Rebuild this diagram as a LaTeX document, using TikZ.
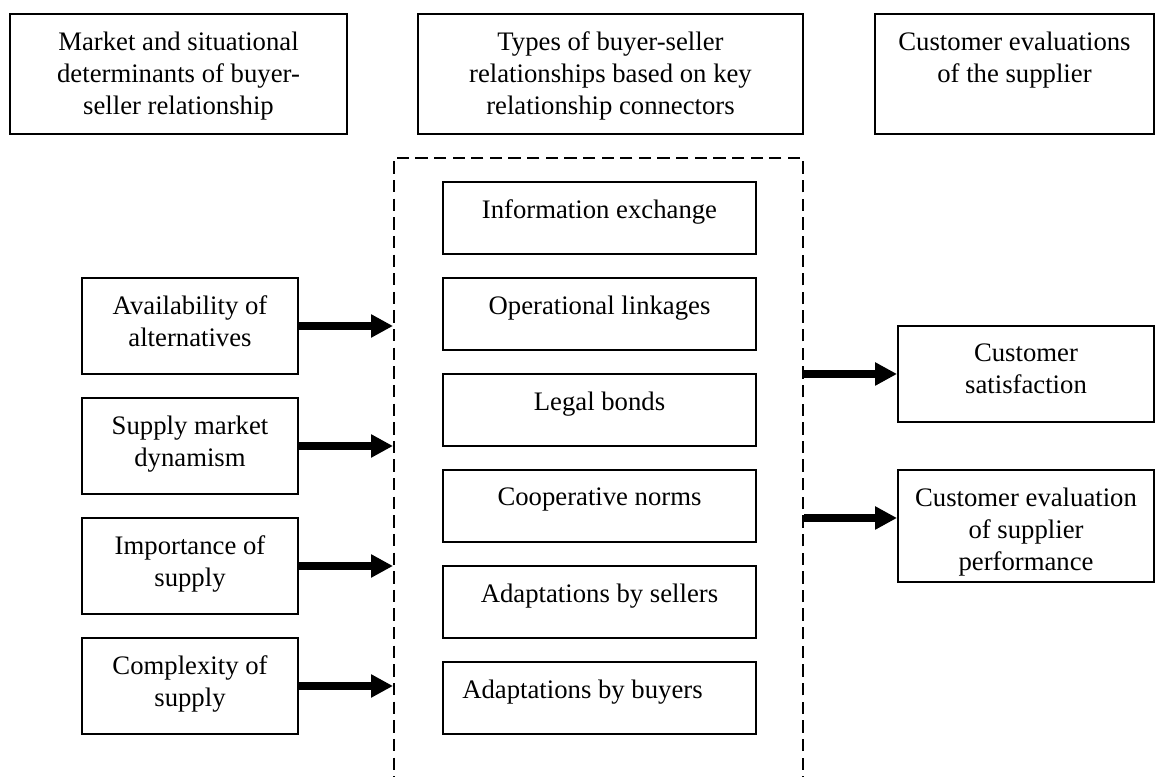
\documentclass[tikz,border=0pt]{standalone}
\usepackage{fontspec}
\setmainfont{Liberation Serif}
\usetikzlibrary{arrows.meta}
\tikzset{
	box/.style={draw, line width=1.1pt, inner sep=0pt},
	txt/.style={anchor=north, align=center, inner sep=0pt, yshift=-0.37cm},
	frame/.style={draw, line width=1pt, dash pattern=on 7pt off 3.6pt, inner sep=0pt},
	link/.style={line width=4pt, -{Triangle[length=0.44cm,width=0.44cm]}},
}
\begin{document}
\begin{tikzpicture}[every node/.style={font=\fontsize{15.2pt}{18.2pt}\selectfont}]
			\clip (0,0) rectangle (23.12,15.54);
			% 顶部标题
			\node[box, minimum width=6.74cm, minimum height=2.4cm, label={[txt]north:Market and situational\\determinants of buyer-\\seller relationship}] (det) at (3.57,14.06) {};
			\node[box, minimum width=7.7cm, minimum height=2.4cm, label={[txt]north:Types of buyer-seller\\relationships based on key\\relationship connectors}] (types) at (12.21,14.06) {};
			\node[box, minimum width=5.58cm, minimum height=2.4cm, label={[txt]north:Customer evaluations\\of the supplier}] (evals) at (20.29,14.06) {};
			% 虚线框
			\node[frame, minimum width=8.18cm, minimum height=13cm, anchor=north west] (group) at (7.86,12.4) {};
			% 中间各框
			\foreach \n/\y/\dx/\lbl in {info/11.18/0/Information exchange, oper/9.26/0/Operational linkages, legal/7.34/0/Legal bonds, coop/5.42/0/Cooperative norms, sell/3.50/0/Adaptations by sellers, buy/1.58/-0.34/Adaptations by buyers} {
				\node[box, minimum width=6.26cm, minimum height=1.44cm, label={[txt, xshift=\dx cm]north:\lbl}] (\n) at (11.99,\y) {};
			}
			% 左侧各框及箭头
			\foreach \n/\y/\lbl in {avail/9.02/Availability of\\alternatives, dyn/6.62/Supply market\\dynamism, imp/4.22/Importance of\\supply, comp/1.82/Complexity of\\supply} {
				\node[box, minimum width=4.32cm, minimum height=1.92cm, label={[txt]north:\lbl}] (\n) at (3.8,\y) {};
				\draw[link] (\n.east) -- (\n.east -| group.west);
			}
			% 右侧各框及箭头
			\node[box, minimum width=5.12cm, minimum height=1.92cm, label={[txt]north:Customer\\satisfaction}] (sat) at (20.52,8.06) {};
			\node[box, minimum width=5.12cm, minimum height=2.24cm, label={[txt]north:Customer evaluation\\of supplier\\performance}] (perf) at (20.52,5.02) {};
			\coordinate (perfin) at ([yshift=0.16cm]perf.west);
			\draw[link] (group.east |- sat.west) -- (sat.west);
			\draw[link] (group.east |- perfin) -- (perfin);
\end{tikzpicture}
\end{document}
